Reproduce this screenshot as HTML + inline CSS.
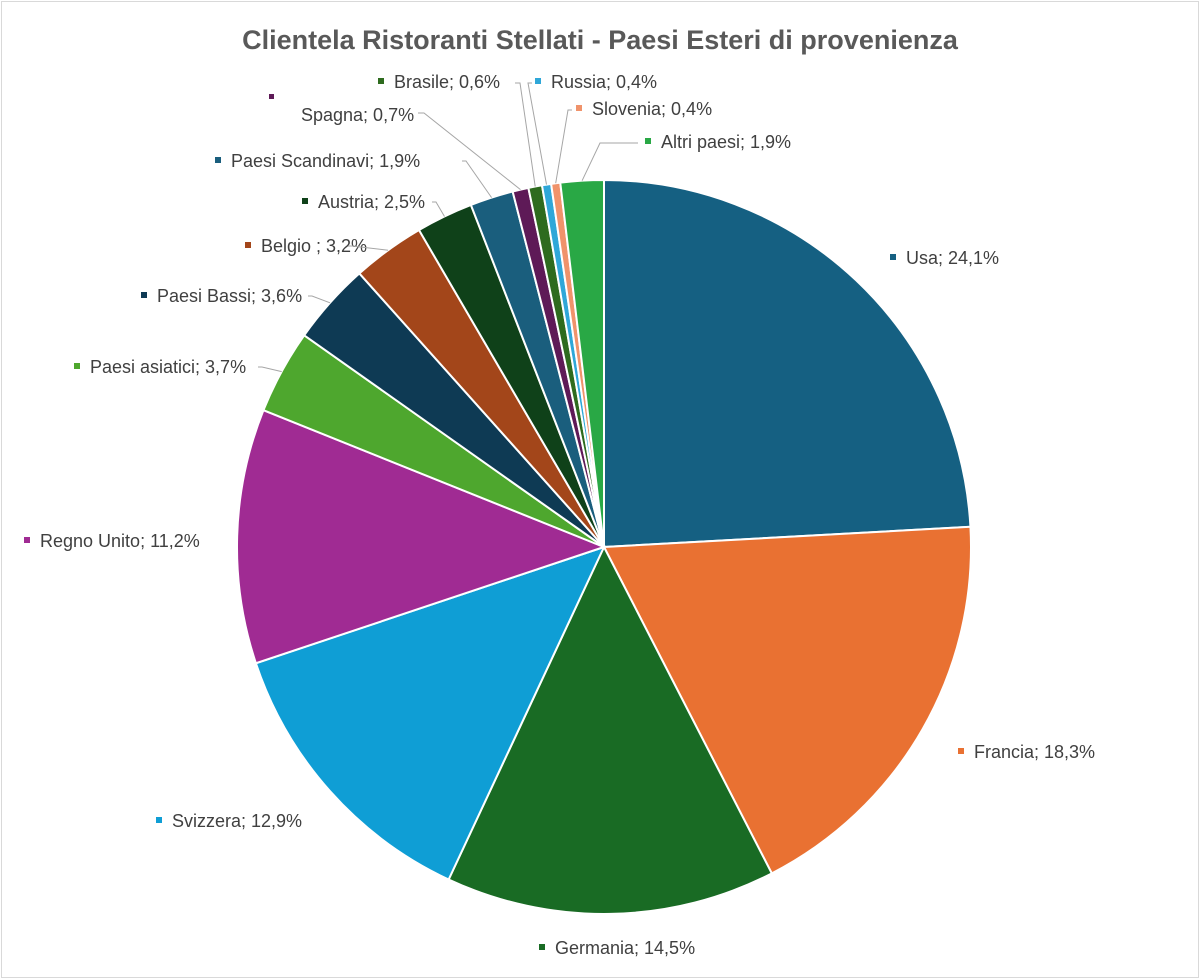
<!DOCTYPE html>
<html><head><meta charset="utf-8"><style>
html,body{margin:0;padding:0;background:#fff}
svg{display:block}
text{font-family:"Liberation Sans",sans-serif;fill:#404040}
</style></head><body>
<svg id="s" width="1200" height="979" viewBox="0 0 1200 979">
<rect x="1.5" y="1.5" width="1197" height="976" fill="#fff" stroke="#d9d9d9"/>
<text x="600" y="49" text-anchor="middle" font-size="27" font-weight="bold" style="fill:#595959">Clientela Ristoranti Stellati - Paesi Esteri di provenienza</text>
<g id="pie"></g>
<g id="lab" font-size="18"></g>
</svg>
<script>
var d=[["Usa; 24,1%",24.1,"#156082",890,255],["Francia; 18,3%",18.3,"#e97132",958,749],["Germania; 14,5%",14.5,"#196b24",539,945],["Svizzera; 12,9%",12.9,"#0f9ed5",156,818],["Regno Unito; 11,2%",11.2,"#a02b93",24,538],["Paesi asiatici; 3,7%",3.7,"#4ea72e",74,364],["Paesi Bassi; 3,6%",3.6,"#0e3a54",141,293],["Belgio ; 3,2%",3.2,"#a3461a",245,243],["Austria; 2,5%",2.5,"#0f4119",302,199],["Paesi Scandinavi; 1,9%",1.9,"#1a5e7d",215,158],["Spagna; 0,7%",0.7,"#5e1a57",269,99],["Brasile; 0,6%",0.6,"#2e6b1e",378,79],["Russia; 0,4%",0.4,"#2fa7d8",535,79],["Slovenia; 0,4%",0.4,"#f0936b",576,106],["Altri paesi; 1,9%",1.9,"#29a845",645,139]];
var cx=604,cy=547,r=367,tot=0;d.forEach(e=>tot+=e[1]);
var a=0,P="",L="";
function pt(t,rr){return [cx+rr*Math.sin(t),cy-rr*Math.cos(t)];}
d.forEach(function(e,i){
 var a2=a+e[1]/tot*2*Math.PI,p1=pt(a,r),p2=pt(a2,r),lg=(a2-a)>Math.PI?1:0;
 P+='<path d="M'+cx+','+cy+' L'+p1[0].toFixed(2)+','+p1[1].toFixed(2)+' A'+r+','+r+' 0 '+lg+' 1 '+p2[0].toFixed(2)+','+p2[1].toFixed(2)+' Z" fill="'+e[2]+'" stroke="#fff" stroke-width="2"/>';
 var lx=e[3],ly=e[4];
 if(i==10){L+='<rect x="'+(lx)+'" y="94" width="5" height="5" fill="'+e[2]+'"/><text x="'+(lx+32)+'" y="'+(ly+22)+'">'+e[0]+'</text>';}
 else{L+='<rect x="'+lx+'" y="'+(ly-1)+'" width="6" height="6" fill="'+e[2]+'"/><text x="'+(lx+16)+'" y="'+(ly+9)+'">'+e[0]+'</text>';}
 if(i>=5){var m=pt((a+a2)/2,r);
  var ex,ey=ly+3;
  if(i<=9){ex=(i==5?258:i==6?308:i==7?348:i==8?432:462);
   L+='<polyline points="'+ex+','+ey+' '+(ex+4)+','+ey+' '+m[0].toFixed(1)+','+m[1].toFixed(1)+'" fill="none" stroke="#a6a6a6"/>';}
  else if(i==10){L+='<polyline points="418,113 424,113 '+m[0].toFixed(1)+','+m[1].toFixed(1)+'" fill="none" stroke="#a6a6a6"/>';}
  else if(i==11){L+='<polyline points="515,83 520,83 '+m[0].toFixed(1)+','+m[1].toFixed(1)+'" fill="none" stroke="#a6a6a6"/>';}
  else if(i==12){L+='<polyline points="532,83 528,83 '+m[0].toFixed(1)+','+m[1].toFixed(1)+'" fill="none" stroke="#a6a6a6"/>';}
  else if(i==13){L+='<polyline points="572,110 568,110 '+m[0].toFixed(1)+','+m[1].toFixed(1)+'" fill="none" stroke="#a6a6a6"/>';}
  else {L+='<polyline points="638,143 600,143 '+m[0].toFixed(1)+','+m[1].toFixed(1)+'" fill="none" stroke="#a6a6a6"/>';}
 }
 a=a2;
});
document.getElementById("pie").innerHTML=P;
document.getElementById("lab").innerHTML=L;
</script>
</body></html>
